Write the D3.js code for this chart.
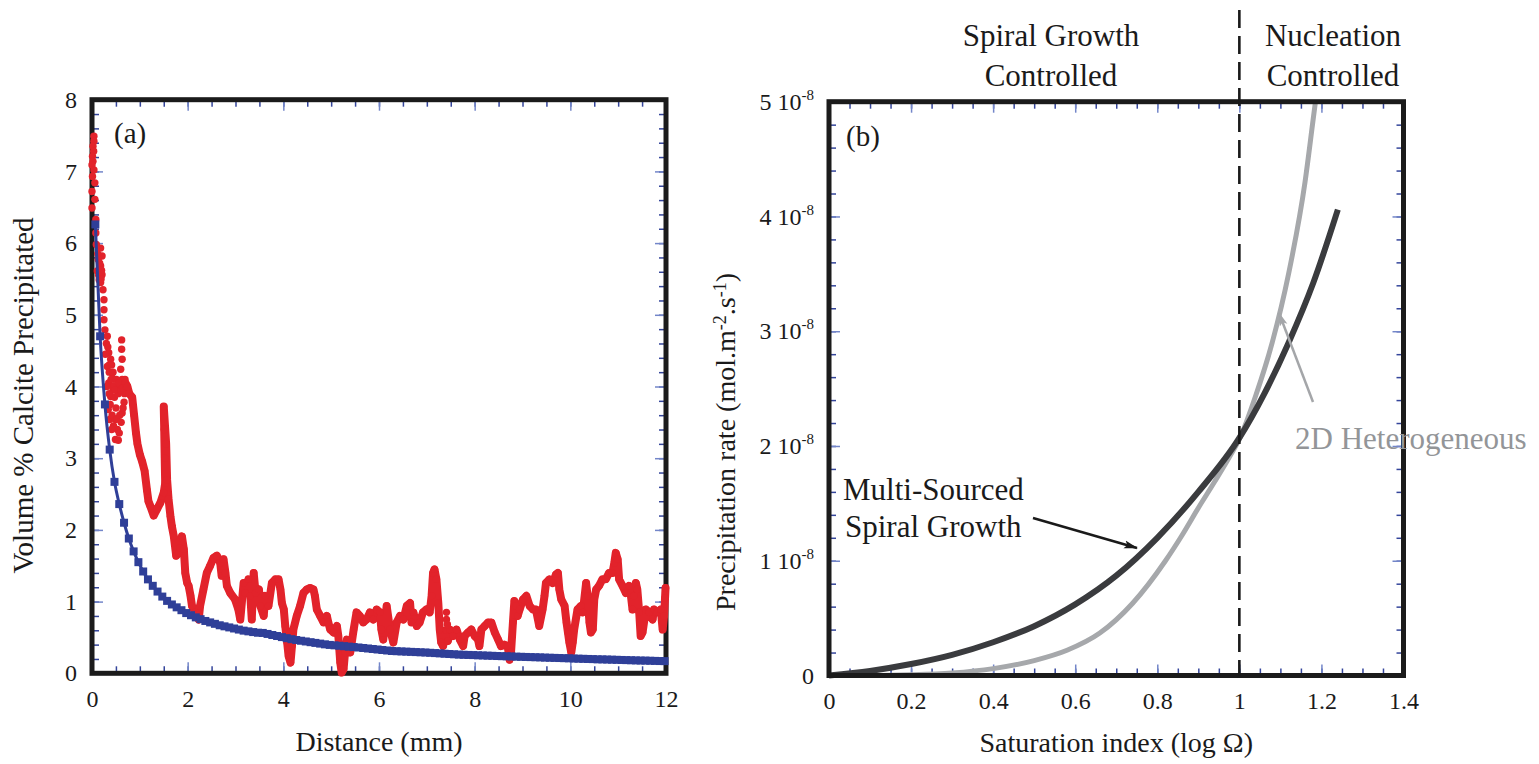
<!DOCTYPE html>
<html><head><meta charset="utf-8">
<script src="https://cdn.jsdelivr.net/npm/d3@7"></script>
<style>
body{margin:0;background:#fff}
svg{display:block}
text{font-family:"Liberation Serif","Times New Roman",serif;fill:#1a1a1a}
</style>
</head><body>
<svg id="chart" width="1539" height="764"></svg>
<script>
// ---------------- DATA ----------------
// Panel (a): x ticks, y ticks
const aXMajor = [0, 2, 4, 6, 8, 10, 12];
const aXMinor = d3.range(0, 12.01, 0.5);
const aYMajor = [0, 1, 2, 3, 4, 5, 6, 7, 8];
const aYMinor = d3.range(0, 8.01, 0.2);

// Measured calcite (red): early scattered dots [distance mm, vol %]
const redScatter = [
 [0.04,7.49],[0.04,7.42],[0.02,7.35],[0.035,7.28],[0.01,7.21],[0.02,7.14],[0.0,7.09],[0.04,7.02],
 [0.01,6.93],[0.06,6.84],[0.0,6.72],[0.06,6.61],[0.0,6.49],[0.08,6.33],[0.08,6.14],[0.09,5.98],
 [0.18,5.93],[0.21,5.82],[0.13,5.77],[0.18,5.68],[0.11,5.61],[0.21,5.56],[0.15,5.49],[0.18,5.45],
 [0.12,5.85],[0.16,5.72],[0.2,5.62],[0.14,5.55],[0.19,5.5],
 [0.23,5.35],[0.25,5.21],[0.25,5.07],[0.25,4.93],[0.27,4.79],
 [0.32,4.70],[0.35,4.47],[0.32,4.28],[0.39,4.38],[0.42,4.19],[0.35,4.05],[0.39,3.86],[0.34,3.68],
 [0.37,3.54],[0.49,3.54],[0.53,3.40],[0.49,3.26],[0.46,4.10],[0.53,4.00],[0.62,4.65],[0.62,4.52],
 [0.63,4.38],[0.60,4.24],[0.63,4.10],[0.67,3.78],[0.63,3.63],
 [0.36,4.3],[0.4,4.1],[0.44,3.95],[0.38,3.75],[0.42,3.6],[0.47,3.85],[0.5,3.7],[0.55,3.9],
 [0.58,4.0],[0.66,4.05],[0.72,3.95],[0.68,3.9],[0.3,4.6],[0.28,4.45],[0.57,3.35],[0.55,3.25],
 [0.33,4.55],[0.36,4.2],[0.41,4.3],[0.44,4.2],[0.45,4.0],[0.48,3.95],[0.51,4.1],[0.56,4.05],
 [0.6,3.95],[0.64,3.98],[0.69,4.1],[0.71,4.0],[0.65,3.7],[0.61,3.5],[0.52,3.55],[0.45,3.45],
 [0.41,3.4],[0.58,3.6],[0.36,3.9],[0.31,4.0]
];
// Measured calcite (red): continuous band [distance mm, vol %]
const redTrace = [
 [0.70,4.05],[0.74,4.00],[0.78,3.90],[0.84,3.85],[0.88,3.60],[0.92,3.35],[0.95,3.20],[1.00,3.05],
 [1.05,2.95],[1.10,2.82],[1.15,2.55],[1.18,2.40],[1.22,2.33],[1.29,2.20],[1.36,2.29],[1.43,2.38],
 [1.50,2.52],[1.53,2.65],[1.52,3.00],[1.51,3.40],[1.50,3.72],[1.55,3.20],[1.57,2.70],[1.60,2.43],
 [1.64,2.19],[1.67,2.05],[1.71,1.91],[1.76,1.64],[1.81,1.68],[1.84,1.75],[1.88,1.91],[1.92,1.73],
 [1.95,1.40],[1.99,1.26],[2.02,1.22],[2.06,1.08],[2.09,0.94],[2.16,0.85],[2.23,0.75],[2.26,0.94],
 [2.33,1.17],[2.40,1.40],[2.47,1.50],[2.54,1.61],[2.61,1.64],[2.68,1.54],[2.71,1.36],[2.75,1.59],
 [2.79,1.40],[2.82,1.22],[2.89,1.12],[2.99,1.03],[3.06,0.89],[3.10,0.75],[3.17,1.26],[3.20,1.12],
 [3.27,1.31],[3.31,1.08],[3.34,0.75],[3.38,1.40],[3.42,1.12],[3.49,1.17],[3.52,0.94],[3.59,0.80],
 [3.625,1.08],[3.69,0.94],[3.76,1.26],[3.83,1.31],[3.90,1.31],[3.94,1.17],[3.97,0.98],[4.01,0.89],
 [4.04,0.66],[4.08,0.43],[4.11,0.24],[4.15,0.15],[4.18,0.38],[4.21,0.61],[4.28,0.80],[4.35,0.94],
 [4.42,1.12],[4.49,1.17],[4.56,1.19],[4.63,1.17],[4.66,1.08],[4.70,0.89],[4.77,0.80],[4.84,0.71],
 [4.91,0.80],[4.94,0.71],[4.98,0.61],[5.05,0.57],[5.12,0.66],[5.15,0.52],[5.19,0.15],[5.22,0.01],
 [5.26,0.06],[5.29,0.29],[5.33,0.47],[5.36,0.38],[5.40,0.29],[5.47,0.61],[5.53,0.85],[5.60,0.80],
 [5.67,0.71],[5.74,0.75],[5.81,0.85],[5.88,0.75],[5.95,0.89],[6.02,0.85],[6.05,0.61],[6.09,0.47],
 [6.16,0.94],[6.23,0.61],[6.30,0.43],[6.37,0.71],[6.44,0.80],[6.51,0.75],[6.58,0.94],[6.65,0.98],
 [6.68,0.71],[6.72,0.85],[6.79,0.66],[6.85,0.71],[6.92,0.85],[6.99,0.89],[7.06,0.85],[7.10,1.08],
 [7.13,1.40],[7.16,1.45],[7.20,1.31],[7.24,0.98],[7.27,0.61],[7.30,0.43],[7.34,0.38],[7.41,0.60],
 [7.44,0.45],[7.48,0.61],[7.55,0.52],[7.62,0.61],[7.69,0.47],[7.76,0.38],[7.79,0.52],[7.86,0.57],
 [7.93,0.61],[8.00,0.52],[8.07,0.47],[8.10,0.38],[8.14,0.61],[8.21,0.66],[8.28,0.71],[8.35,0.71],
 [8.42,0.57],[8.49,0.47],[8.55,0.38],[8.62,0.40],[8.69,0.38],[8.73,0.19],[8.76,0.29],[8.80,0.71],
 [8.83,1.01],[8.87,0.94],[8.90,0.80],[8.94,0.89],[9.01,1.03],[9.08,1.08],[9.15,0.94],[9.22,0.89],
 [9.28,0.89],[9.35,0.66],[9.42,0.89],[9.46,1.08],[9.49,1.26],[9.56,1.31],[9.63,1.26],[9.70,1.38],
 [9.74,1.40],[9.77,1.17],[9.81,1.03],[9.88,0.94],[9.92,0.71],[9.95,0.57],[9.98,0.43],[10.02,0.29],
 [10.05,0.43],[10.08,0.61],[10.15,0.89],[10.22,0.94],[10.26,0.85],[10.33,1.26],[10.36,1.08],[10.40,0.71],
 [10.43,0.57],[10.47,0.61],[10.50,1.03],[10.54,1.17],[10.60,1.22],[10.67,1.31],[10.74,1.31],[10.81,1.40],
 [10.88,1.40],[10.92,1.54],[10.95,1.68],[10.99,1.59],[11.02,1.31],[11.09,1.22],[11.16,1.12],[11.23,1.22],
 [11.26,1.12],[11.30,0.89],[11.33,1.08],[11.37,1.26],[11.40,1.17],[11.44,0.85],[11.47,0.52],[11.51,0.57],
 [11.58,0.89],[11.65,0.85],[11.72,0.75],[11.75,0.89],[11.82,0.85],[11.89,0.89],[11.93,0.61],[11.96,0.80],
 [11.98,1.05],[11.99,1.19]
];
const redExtra = [[7.41,0.85],[7.41,0.75],[7.43,0.68]];

// Model curve (blue): [distance mm, vol %]
const blueModel = [
 [0.07,6.26],[0.17,4.70],[0.27,3.75],[0.37,3.12],[0.47,2.67],[0.57,2.36],[0.67,2.10],[0.77,1.88],
 [0.87,1.70],[0.97,1.55],[1.07,1.42],[1.17,1.31],[1.27,1.22],[1.37,1.14],[1.47,1.07],[1.57,1.01],
 [1.67,0.96],[1.77,0.92],[1.87,0.88],[1.97,0.84],[2.07,0.81],[2.17,0.78],[2.27,0.755],[2.37,0.73],
 [2.47,0.71],[2.57,0.69],[2.67,0.67],[2.77,0.655],[2.87,0.64],[2.97,0.625],[3.07,0.61],[3.17,0.595],
 [3.27,0.585],[3.37,0.575],[3.47,0.566],[3.57,0.563],[3.67,0.549],[3.77,0.534],[3.87,0.52],[3.97,0.505],
 [4.07,0.49],[4.17,0.476],[4.27,0.464],[4.37,0.454],[4.47,0.444],[4.57,0.434],[4.67,0.424],[4.77,0.414],
 [4.87,0.404],[4.97,0.396],[5.07,0.39],[5.17,0.384],[5.27,0.378],[5.37,0.372],[5.47,0.366],[5.57,0.36],
 [5.67,0.353],[5.77,0.346],[5.87,0.339],[5.97,0.332],[6.07,0.325],[6.17,0.318],[6.27,0.311],[6.37,0.308],
 [6.47,0.305],[6.57,0.302],[6.67,0.299],[6.77,0.296],[6.87,0.293],[6.97,0.29],[7.07,0.286],[7.17,0.282],
 [7.27,0.278],[7.37,0.273],[7.47,0.269],[7.57,0.265],[7.67,0.261],[7.77,0.258],[7.87,0.256],[7.97,0.254],
 [8.07,0.251],[8.17,0.249],[8.27,0.246],[8.37,0.244],[8.47,0.241],[8.57,0.239],[8.67,0.237],[8.77,0.235],
 [8.87,0.232],[8.97,0.23],[9.07,0.228],[9.17,0.226],[9.27,0.224],[9.37,0.222],[9.47,0.219],[9.57,0.217],
 [9.67,0.215],[9.77,0.213],[9.87,0.211],[9.97,0.209],[10.07,0.206],[10.17,0.204],[10.27,0.202],[10.37,0.2],
 [10.47,0.198],[10.57,0.195],[10.67,0.194],[10.77,0.192],[10.87,0.19],[10.97,0.188],[11.07,0.186],[11.17,0.184],
 [11.27,0.182],[11.37,0.18],[11.47,0.178],[11.57,0.177],[11.67,0.175],[11.77,0.173],[11.87,0.171],[11.97,0.17]
];

// Panel (b): ticks
const bXMajor = [0, 0.2, 0.4, 0.6, 0.8, 1, 1.2, 1.4];
const bXMinor = d3.range(0, 1.401, 0.05);
const bYMajor = [0, 1, 2, 3, 4, 5];          // in units of 1e-8
const bYMinor = d3.range(0, 5.01, 0.2);
// Precipitation rate curves [log Omega, rate in 1e-8 mol m-2 s-1]
const spiralCurve = [
 [0,0],[0.1,0.04],[0.2,0.10],[0.3,0.18],[0.4,0.29],[0.5,0.43],[0.6,0.62],[0.7,0.87],
 [0.8,1.20],[0.9,1.60],[1.0,2.07],[1.06,2.45],[1.12,2.90],[1.18,3.42],[1.24,4.06]
];
const nucleationCurve = [
 [0,0],[0.1,0.0],[0.2,0.006],[0.3,0.022],[0.4,0.06],[0.5,0.13],[0.58,0.22],[0.66,0.37],[0.74,0.63],
 [0.82,1.00],[0.86,1.22],[0.9,1.46],[0.94,1.69],[0.98,1.93],[1.0,2.06],[1.04,2.44],[1.08,2.90],
 [1.12,3.50],[1.16,4.30],[1.18,4.85],[1.2,5.40]
];
const regimeBoundary = 1;

// ---------------- DRAWING ----------------
const svg = d3.select("#chart");
const minorColor = "#34459b", majorColor = "#7386c9", frameColor = "#1b1b1b";
const TICKFONT = 24;

const defs = svg.append("defs");
defs.append("marker").attr("id","arrBlack").attr("viewBox","0 0 14 10").attr("refX",13).attr("refY",5)
  .attr("markerWidth",14).attr("markerHeight",10).attr("markerUnits","userSpaceOnUse").attr("orient","auto")
  .append("path").attr("d","M0,1 L14,5 L0,9 L3,5 Z").attr("fill","#1a1a1a");
defs.append("marker").attr("id","arrGray").attr("viewBox","0 0 14 10").attr("refX",13).attr("refY",5)
  .attr("markerWidth",14).attr("markerHeight",10).attr("markerUnits","userSpaceOnUse").attr("orient","auto")
  .append("path").attr("d","M0,1 L14,5 L0,9 L3,5 Z").attr("fill","#a4a6a9");

function drawTicks(g, x, y, W, H, xMaj, xMin, yMaj, yMin) {
  const specs = [[xMin, yMin, 7, minorColor], [xMaj, yMaj, 11, majorColor]];
  specs.forEach(([xv, yv, len, col]) => {
    const parts = [
      [d3.axisBottom(x).tickValues(xv), `translate(0,${H})`],
      [d3.axisTop(x).tickValues(xv), `translate(0,0)`],
      [d3.axisLeft(y).tickValues(yv), `translate(0,0)`],
      [d3.axisRight(y).tickValues(yv), `translate(${W},0)`]
    ];
    parts.forEach(([ax, tr]) => {
      const a = g.append("g").attr("transform", tr)
        .call(ax.tickSize(-len).tickSizeOuter(0).tickFormat(""));
      a.select(".domain").remove();
      a.selectAll("line").attr("stroke", col).attr("stroke-width", 1.5);
    });
  });
}
function styleLabels(a) {
  a.select(".domain").remove();
  a.attr("font-family", null).attr("font-size", null);
  a.selectAll("text").attr("font-size", TICKFONT).attr("fill", "#1a1a1a")
   .style("font-family", '"Liberation Serif", serif');
}

// ===== Panel (a) =====
const aL = 92, aR = 666, aT = 99.7, aB = 673.3;
const aW = aR - aL, aH = aB - aT;
const xa = d3.scaleLinear().domain([0, 12]).range([0, aW]);
const ya = d3.scaleLinear().domain([0, 8]).range([aH, 0]);
const ga = svg.append("g").attr("transform", `translate(${aL},${aT})`);

drawTicks(ga, xa, ya, aW, aH, aXMajor, aXMinor, aYMajor, aYMinor);
ga.append("rect").attr("width", aW).attr("height", aH).attr("fill","none")
  .attr("stroke", frameColor).attr("stroke-width", 5);

const axA = ga.append("g").attr("transform", `translate(0,${aH})`)
  .call(d3.axisBottom(xa).tickValues(aXMajor).tickSize(0).tickPadding(16.5).tickFormat(d3.format("d")));
const ayA = ga.append("g")
  .call(d3.axisLeft(ya).tickValues(aYMajor).tickSize(0).tickPadding(15).tickFormat(d3.format("d")));
styleLabels(axA); styleLabels(ayA);

// red measured data
const redLine = d3.line().x(d => xa(d[0])).y(d => ya(d[1]));
const dataA = ga.append("g");
dataA.append("path").datum(redTrace).attr("d", redLine).attr("fill","none")
  .attr("stroke","#e2232b").attr("stroke-width",8).attr("stroke-linejoin","round").attr("stroke-linecap","round");
dataA.selectAll("circle.r").data(redScatter.concat(redTrace, redExtra)).join("circle")
  .attr("class","r").attr("cx", d => xa(d[0])).attr("cy", d => ya(d[1])).attr("r", 3.7).attr("fill","#e2232b");

// blue model
const blueLine = d3.line().x(d => xa(d[0])).y(d => ya(d[1])).curve(d3.curveMonotoneX);
dataA.append("path").datum(blueModel).attr("d", blueLine).attr("fill","none")
  .attr("stroke","#2f3f98").attr("stroke-width",3);
dataA.selectAll("rect.b").data(blueModel).join("rect").attr("class","b")
  .attr("x", d => xa(d[0]) - 4).attr("y", d => ya(d[1]) - 4)
  .attr("width", 8).attr("height", 8).attr("fill","#2f3f98");

// labels (a)
svg.append("text").attr("x", 114).attr("y", 143).attr("font-size", 29).text("(a)");
svg.append("text").attr("x", (aL + aR) / 2).attr("y", 751).attr("text-anchor","middle")
  .attr("font-size", 28).text("Distance (mm)");
svg.append("text").attr("transform", `translate(33,${(aT + aB) / 2 + 9}) rotate(-90)`)
  .attr("text-anchor","middle").attr("font-size", 29).text("Volume % Calcite Precipitated");

// ===== Panel (b) =====
const bL = 829, bR = 1403.5, bT = 101.7, bB = 675.5;
const bW = bR - bL, bH = bB - bT;
const xb = d3.scaleLinear().domain([0, 1.4]).range([0, bW]);
const yb = d3.scaleLinear().domain([0, 5]).range([bH, 0]);
const gb = svg.append("g").attr("transform", `translate(${bL},${bT})`);
defs.append("clipPath").attr("id","clipB").append("rect").attr("x",-5).attr("y",0).attr("width",bW+5).attr("height",bH+5);

drawTicks(gb, xb, yb, bW, bH, bXMajor, bXMinor, bYMajor, bYMinor);

const curveLine = d3.line().x(d => xb(d[0])).y(d => yb(d[1])).curve(d3.curveMonotoneX);
const cg = gb.append("g").attr("clip-path","url(#clipB)");
cg.append("path").datum(nucleationCurve).attr("d", curveLine).attr("fill","none")
  .attr("stroke","#a6a8ab").attr("stroke-width",5);
cg.append("path").datum(spiralCurve).attr("d", curveLine).attr("fill","none")
  .attr("stroke","#3a3b3e").attr("stroke-width",6).attr("stroke-linecap","butt");

gb.append("rect").attr("width", bW).attr("height", bH).attr("fill","none")
  .attr("stroke", frameColor).attr("stroke-width", 5);

gb.append("line").attr("x1", xb(regimeBoundary)).attr("x2", xb(regimeBoundary))
  .attr("y1", 10 - bT).attr("y2", bH).attr("stroke","#1a1a1a").attr("stroke-width",2.6)
  .attr("stroke-dasharray","18,8");

const axB = gb.append("g").attr("transform", `translate(0,${bH})`)
  .call(d3.axisBottom(xb).tickValues(bXMajor).tickSize(0).tickPadding(16.5).tickFormat(d => d === 0 ? "0" : d3.format("~g")(d)));
const ayB = gb.append("g")
  .call(d3.axisLeft(yb).tickValues(bYMajor).tickSize(0).tickPadding(15).tickFormat(""));
styleLabels(axB); styleLabels(ayB);
ayB.selectAll("text").each(function(d) {
  const t = d3.select(this);
  t.text(null);
  if (d === 0) { t.append("tspan").text("0"); return; }
  t.append("tspan").text(d + " 10");
  t.append("tspan").attr("font-size", 15).attr("dy", -10).text("-8");
});

// labels (b)
svg.append("text").attr("x", 846).attr("y", 146).attr("font-size", 29).text("(b)");
svg.append("text").attr("x", (bL + bR) / 2).attr("y", 752).attr("text-anchor","middle")
  .attr("font-size", 28).text("Saturation index (log Ω)");
const yt = svg.append("text").attr("transform", `translate(735,442) rotate(-90)`)
  .attr("text-anchor","middle").attr("font-size", 28);
yt.append("tspan").text("Precipitation rate (mol.m");
yt.append("tspan").attr("font-size", 18).attr("dy", -9).text("-2");
yt.append("tspan").attr("dy", 9).text(".s");
yt.append("tspan").attr("font-size", 18).attr("dy", -9).text("-1");
yt.append("tspan").attr("dy", 9).text(")");

const ann = [
  ["Spiral Growth", 1051, 46, "middle", "#1a1a1a"], ["Controlled", 1051, 86, "middle", "#1a1a1a"],
  ["Nucleation", 1333, 46, "middle", "#1a1a1a"], ["Controlled", 1333, 86, "middle", "#1a1a1a"],
  ["Multi-Sourced", 843, 500, "start", "#1a1a1a"], ["Spiral Growth", 845, 537, "start", "#1a1a1a"],
  ["2D Heterogeneous", 1295, 449, "start", "#939598"]
];
ann.forEach(([t, x, y, a, c]) => svg.append("text").attr("x", x).attr("y", y)
  .attr("text-anchor", a).attr("font-size", 31).style("fill", c).text(t));

svg.append("line").attr("x1",1033).attr("y1",518).attr("x2",1137).attr("y2",548)
  .attr("stroke","#1a1a1a").attr("stroke-width",2.5).attr("marker-end","url(#arrBlack)");
svg.append("line").attr("x1",1313).attr("y1",402).attr("x2",1279).attr("y2",313)
  .attr("stroke","#a4a6a9").attr("stroke-width",2.5).attr("marker-end","url(#arrGray)");
</script>
</body></html>
